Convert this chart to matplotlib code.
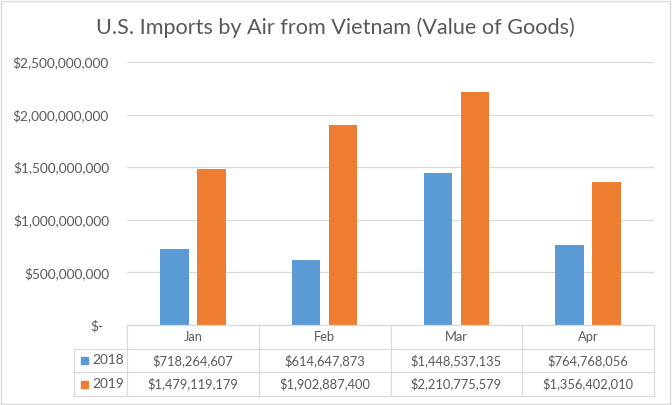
import matplotlib
matplotlib.use("Agg")
import matplotlib.pyplot as plt
from matplotlib.lines import Line2D
from matplotlib.patches import Rectangle
import numpy as np

months = ["Jan", "Feb", "Mar", "Apr"]
series_names = ["2018", "2019"]
values_2018 = [718264607, 614647873, 1448537135, 764768056]
values_2019 = [1479119179, 1902887400, 2210775579, 1356402010]
yticks = [0, 500000000, 1000000000, 1500000000, 2000000000, 2500000000]
ytick_labels = ["$-", "$500,000,000", "$1,000,000,000", "$1,500,000,000",
                "$2,000,000,000", "$2,500,000,000"]
title = "U.S. Imports by Air from Vietnam (Value of Goods)"

BLUE = "#5B9BD5"
ORANGE = "#ED7D31"
GRID = "#D9D9D9"
TXT = "#595959"
FONT = ["Lato", "DejaVu Sans"]
plt.rcParams["font.family"] = FONT

W, H = 672, 405
fig = plt.figure(figsize=(W / 100, H / 100), dpi=100)

def fx(px):
    return px / W

def fy(py):
    return 1 - py / H

left, right = 127, 654
top, bottom = 62, 325
ax = fig.add_axes([fx(left), fy(bottom), fx(right) - fx(left), fy(top) - fy(bottom)])

x = np.arange(len(months))
w = 0.216
off = 0.14
ax.bar(x - off, values_2018, w, color=BLUE, zorder=3)
ax.bar(x + off, values_2019, w, color=ORANGE, zorder=3)

ax.set_xlim(-0.5, len(months) - 0.5)
ax.set_ylim(0, 2500000000)
ax.set_yticks(yticks)
ax.set_yticklabels(ytick_labels)
ax.set_xticks([])
ax.tick_params(axis="y", length=0, pad=13, labelsize=9.8, labelcolor=TXT)
ax.grid(axis="y", color=GRID, linewidth=0.9, zorder=0)
for s in ax.spines.values():
    s.set_visible(False)
ax.get_yticklabels()[0].set_visible(False)
fig.text(fx(103), fy(326), ytick_labels[0], ha="right", va="center", fontsize=9.8, color=TXT)

fig.text(fx(335.4), fy(28), title, ha="center", va="center", fontsize=15.6, color=TXT)

# data table
col_edges = [left + (right - left) * i / len(months) for i in range(len(months) + 1)]
row_edges = [325, 348.5, 372.3, 396]
lab_left = 74
lc = GRID
lw = 0.9
fig.add_artist(Line2D([fx(left), fx(right)], [fy(row_edges[0])] * 2, color=lc, lw=lw))
for ry in row_edges[1:]:
    fig.add_artist(Line2D([fx(lab_left), fx(right)], [fy(ry)] * 2, color=lc, lw=lw))
for cx in col_edges:
    fig.add_artist(Line2D([fx(cx)] * 2, [fy(row_edges[0]), fy(row_edges[-1])], color=lc, lw=lw))
fig.add_artist(Line2D([fx(lab_left)] * 2, [fy(row_edges[1]), fy(row_edges[-1])], color=lc, lw=lw))

for i, m in enumerate(months):
    cxm = (col_edges[i] + col_edges[i + 1]) / 2
    fig.text(fx(cxm), fy((row_edges[0] + row_edges[1]) / 2), m, ha="center", va="center",
             fontsize=9.3, color=TXT)

def fmt(v):
    return "${:,}".format(v)

for r, (name, vals, col) in enumerate([(series_names[0], values_2018, BLUE),
                                        (series_names[1], values_2019, ORANGE)]):
    ycen = (row_edges[r + 1] + row_edges[r + 2]) / 2
    fig.add_artist(Rectangle((fx(81), fy(ycen + 3.5)), fx(7), fy(0) - fy(7),
                             color=col, transform=fig.transFigure))
    fig.text(fx(92), fy(ycen), name, ha="left", va="center", fontsize=9.8, color=TXT)
    for i, v in enumerate(vals):
        cxm = (col_edges[i] + col_edges[i + 1]) / 2
        fig.text(fx(cxm), fy(ycen), fmt(v), ha="center", va="center", fontsize=9.3, color=TXT)

# chart border
fig.add_artist(Rectangle((fx(1), fy(404)), fx(669), fy(0) - fy(403), fill=False,
                         edgecolor=GRID, lw=1, transform=fig.transFigure))

fig.savefig("out.png", dpi=100)
